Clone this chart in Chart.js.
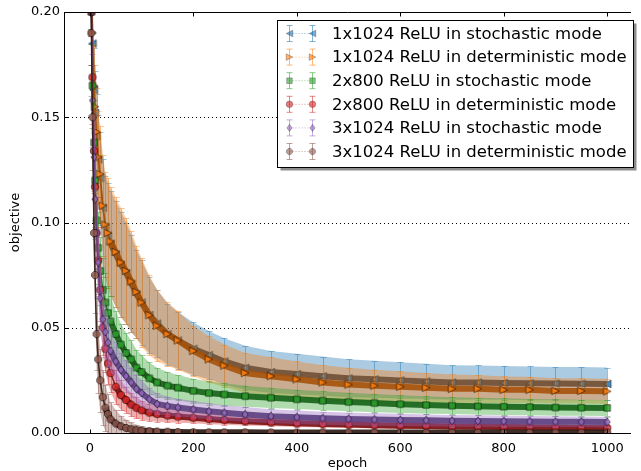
<!DOCTYPE html>
<html>
<head>
<meta charset="utf-8">
<script src="https://cdn.jsdelivr.net/npm/chart.js@4.4.1/dist/chart.umd.min.js"></script>
<style>
html, body { margin: 0; padding: 0; background: #fff; overflow: hidden; }
</style>
</head>
<body>
<canvas id="chart" width="641" height="471"></canvas>
<script>
// epochs sampled from the curves
const epochs = [1, 3, 5, 8, 10, 13, 16, 20, 25, 30, 35, 40, 50, 60, 70, 80, 90, 100, 115, 130,
    150, 170, 200, 230, 260, 300, 350, 400, 450, 500, 550, 600, 650, 700, 750, 800, 850, 900, 950, 1000];
const xTicks = [0, 200, 400, 600, 800, 1000];
const yTicks = [0, 0.05, 0.10, 0.15, 0.20];

const seriesNames = [
    "1x1024 ReLU in stochastic mode",
    "1x1024 ReLU in deterministic mode",
    "2x800 ReLU in stochastic mode",
    "2x800 ReLU in deterministic mode",
    "3x1024 ReLU in stochastic mode",
    "3x1024 ReLU in deterministic mode"
];

// mean objective
const mean1x1024Sto = [0.31, 0.215, 0.185, 0.163, 0.152, 0.141, 0.130, 0.121, 0.107, 0.098, 0.094, 0.090, 0.085, 0.080, 0.076, 0.071, 0.066, 0.062, 0.056, 0.052,
    0.047, 0.044, 0.040, 0.037, 0.034, 0.031, 0.029, 0.028, 0.027, 0.026, 0.0255, 0.025, 0.0245, 0.024, 0.024, 0.0238, 0.0236, 0.0235, 0.0234, 0.0233];
const mean1x1024Det = [0.32, 0.22, 0.19, 0.165, 0.155, 0.143, 0.131, 0.123, 0.108, 0.099, 0.095, 0.091, 0.086, 0.081, 0.077, 0.072, 0.067, 0.062, 0.056, 0.051,
    0.047, 0.044, 0.039, 0.035, 0.032, 0.0285, 0.027, 0.0255, 0.024, 0.023, 0.0225, 0.022, 0.0215, 0.021, 0.021, 0.0205, 0.0205, 0.020, 0.020, 0.0198];
const mean2x800Sto = [0.30, 0.2, 0.165, 0.138, 0.12, 0.101, 0.088, 0.077, 0.068, 0.062, 0.057, 0.053, 0.047, 0.042, 0.038, 0.035, 0.031, 0.029, 0.026, 0.024,
    0.0225, 0.0215, 0.020, 0.019, 0.0183, 0.0175, 0.0167, 0.016, 0.0153, 0.0147, 0.0142, 0.0137, 0.0133, 0.013, 0.0127, 0.0125, 0.0123, 0.0121, 0.012, 0.0119];
const mean2x800Det = [0.30, 0.2, 0.169, 0.134, 0.117, 0.095, 0.082, 0.068, 0.050, 0.040, 0.033, 0.0285, 0.022, 0.018, 0.0157, 0.0135, 0.012, 0.0108, 0.0097, 0.009,
    0.0083, 0.0078, 0.0072, 0.0066, 0.0061, 0.0056, 0.0051, 0.0046, 0.0043, 0.004, 0.0037, 0.0035, 0.0033, 0.0031, 0.003, 0.0028, 0.0027, 0.0026, 0.0025, 0.0024];
const mean3x1024Sto = [0.30, 0.2, 0.158, 0.131, 0.111, 0.095, 0.081, 0.064, 0.054, 0.048, 0.043, 0.039, 0.034, 0.030, 0.027, 0.024, 0.021, 0.019, 0.016, 0.0138,
    0.0128, 0.0121, 0.0112, 0.0103, 0.0096, 0.0088, 0.008, 0.0075, 0.007, 0.0067, 0.0064, 0.0062, 0.006, 0.0058, 0.0057, 0.0056, 0.0055, 0.0054, 0.0053, 0.0052];
const mean3x1024Det = [0.30, 0.19, 0.15, 0.095, 0.075, 0.047, 0.035, 0.025, 0.017, 0.012, 0.009, 0.0065, 0.0045, 0.0032, 0.0024, 0.0018, 0.0014, 0.0011, 0.0009, 0.0007,
    0.0006, 0.0005, 0.0004, 0.00035, 0.0003, 0.0003, 0.00025, 0.00025, 0.0002, 0.0002, 0.0002, 0.0002, 0.0002, 0.0002, 0.0002, 0.0002, 0.0002, 0.0002, 0.0002, 0.0002];

// standard deviation (error bars)
const std1x1024Sto = [0.05, 0.03, 0.022, 0.02, 0.02, 0.02, 0.021, 0.022, 0.023, 0.024, 0.025, 0.025, 0.025, 0.025, 0.024, 0.023, 0.021, 0.02, 0.018, 0.016,
    0.0145, 0.0135, 0.0125, 0.0115, 0.011, 0.0105, 0.01, 0.0096, 0.0093, 0.009, 0.0088, 0.0086, 0.0084, 0.0082, 0.0081, 0.008, 0.008, 0.0079, 0.0079, 0.0078];
const std1x1024Det = [0.05, 0.03, 0.022, 0.02, 0.02, 0.021, 0.022, 0.023, 0.024, 0.025, 0.026, 0.026, 0.026, 0.026, 0.025, 0.024, 0.022, 0.021, 0.019, 0.017,
    0.015, 0.014, 0.012, 0.011, 0.010, 0.0095, 0.009, 0.0085, 0.0082, 0.008, 0.0076, 0.0073, 0.007, 0.0068, 0.0066, 0.0064, 0.0062, 0.006, 0.006, 0.006];
const std2x800Sto = [0.04, 0.025, 0.02, 0.02, 0.019, 0.018, 0.017, 0.016, 0.015, 0.014, 0.013, 0.012, 0.011, 0.010, 0.0095, 0.009, 0.0085, 0.008, 0.0075, 0.007,
    0.0065, 0.006, 0.0058, 0.0055, 0.0053, 0.005, 0.0048, 0.0046, 0.0045, 0.0044, 0.0043, 0.0042, 0.0041, 0.004, 0.004, 0.004, 0.0039, 0.0039, 0.0038, 0.0038];
const std2x800Det = [0.04, 0.025, 0.022, 0.02, 0.019, 0.017, 0.016, 0.015, 0.013, 0.011, 0.0095, 0.0088, 0.008, 0.007, 0.006, 0.0055, 0.005, 0.0045, 0.004, 0.0036,
    0.0032, 0.0029, 0.0026, 0.0024, 0.0022, 0.002, 0.0019, 0.0018, 0.0017, 0.0016, 0.0016, 0.0015, 0.0015, 0.0015, 0.0014, 0.0014, 0.0014, 0.0013, 0.0013, 0.0013];
const std3x1024Sto = [0.04, 0.025, 0.022, 0.02, 0.019, 0.017, 0.016, 0.015, 0.013, 0.012, 0.011, 0.010, 0.009, 0.008, 0.0075, 0.007, 0.0065, 0.006, 0.0055, 0.005,
    0.0045, 0.0042, 0.004, 0.0038, 0.0036, 0.0035, 0.0033, 0.0032, 0.0031, 0.003, 0.003, 0.0029, 0.0028, 0.0028, 0.0027, 0.0027, 0.0026, 0.0026, 0.0025, 0.0025];
const std3x1024Det = [0.04, 0.03, 0.025, 0.02, 0.018, 0.017, 0.016, 0.015, 0.013, 0.011, 0.0095, 0.008, 0.0065, 0.005, 0.004, 0.0032, 0.0026, 0.0021, 0.0016, 0.0013,
    0.001, 0.0008, 0.0006, 0.0005, 0.0004, 0.0003, 0.0003, 0.0003, 0.0002, 0.0002, 0.0002, 0.0002, 0.0002, 0.0002, 0.0002, 0.0002, 0.0002, 0.0002, 0.0002, 0.0002];

// style per series (matplotlib default cycle)
const styles = [
    { mean: mean1x1024Sto, std: std1x1024Sto, rgb: [31, 119, 180], dark: "rgba(22,52,82,0.9)", marker: "left" },
    { mean: mean1x1024Det, std: std1x1024Det, rgb: [255, 127, 14], dark: "rgba(165,82,10,0.9)", marker: "right" },
    { mean: mean2x800Sto, std: std2x800Sto, rgb: [44, 160, 44], dark: "rgba(25,100,25,0.92)", marker: "square" },
    { mean: mean2x800Det, std: std2x800Det, rgb: [214, 39, 40], dark: "rgba(125,20,22,0.92)", marker: "circle" },
    { mean: mean3x1024Sto, std: std3x1024Sto, rgb: [148, 103, 189], dark: "rgba(95,66,130,0.92)", marker: "diamond" },
    { mean: mean3x1024Det, std: std3x1024Det, rgb: [140, 86, 75], dark: "rgba(45,28,22,0.92)", marker: "octagon" }
];
const rgba = (c, a) => `rgba(${c[0]},${c[1]},${c[2]},${a})`;

function markerPath(ctx, type, x, y, r) {
    ctx.beginPath();
    if (type === "left") {
        ctx.moveTo(x - r, y); ctx.lineTo(x + r, y - r); ctx.lineTo(x + r, y + r);
    } else if (type === "right") {
        ctx.moveTo(x + r, y); ctx.lineTo(x - r, y - r); ctx.lineTo(x - r, y + r);
    } else if (type === "square") {
        ctx.rect(x - r * 0.85, y - r * 0.85, r * 1.7, r * 1.7);
    } else if (type === "diamond") {
        ctx.moveTo(x, y - r * 1.1); ctx.lineTo(x + r * 0.8, y); ctx.lineTo(x, y + r * 1.1); ctx.lineTo(x - r * 0.8, y);
    } else if (type === "octagon") {
        for (let k = 0; k < 8; k++) {
            const a = Math.PI / 8 + k * Math.PI / 4;
            const px = x + r * Math.cos(a), py = y + r * Math.sin(a);
            if (k === 0) ctx.moveTo(px, py); else ctx.lineTo(px, py);
        }
    } else {
        ctx.arc(x, y, r, 0, Math.PI * 2);
    }
    ctx.closePath();
}

// marker canvases used as pointStyle
function markerImage(s, alpha) {
    const c = document.createElement("canvas");
    c.width = 12; c.height = 12;
    const g = c.getContext("2d");
    markerPath(g, s.marker, 6, 6, 3.8);
    g.fillStyle = rgba(s.rgb, alpha);
    g.fill();
    g.lineWidth = 0.8;
    g.strokeStyle = "rgba(0,0,0,0.65)";
    g.stroke();
    return c;
}

// where the curve is steep the markers sit apart; where it is flat they pile into a band
const bandWidth = ctx => {
    const dx = Math.abs(ctx.p1.x - ctx.p0.x), dy = Math.abs(ctx.p1.y - ctx.p0.y);
    return dy > dx * 2.5 ? 1.5 : 6;
};

const datasets = [];
styles.forEach((s, k) => {
    const base = (styles.length - k) * 10;
    datasets.push({
        label: seriesNames[k] + " upper",
        data: epochs.map((e, i) => ({ x: e, y: s.mean[i] + s.std[i] })),
        showLine: false, pointRadius: 0, borderWidth: 0, order: base + 3
    });
    datasets.push({
        label: seriesNames[k] + " lower",
        data: epochs.map((e, i) => ({ x: e, y: s.mean[i] - s.std[i] })),
        showLine: false, pointRadius: 0, borderWidth: 0,
        fill: "-1", backgroundColor: rgba(s.rgb, 0.38), order: base + 2
    });
    datasets.push({
        label: seriesNames[k],
        data: epochs.map((e, i) => ({ x: e, y: s.mean[i] })),
        errStd: s.std, errColor: rgba(s.rgb, 0.45),
        borderColor: s.dark, borderWidth: 6, fill: false,
        segment: { borderWidth: bandWidth },
        pointStyle: markerImage(s, 0.85), pointRadius: 4,
        order: base + 1
    });
});

const errorBars = {
    id: "errorBars",
    beforeDatasetDraw(chart, args) {
        const ds = chart.data.datasets[args.index];
        if (!ds.errStd) return;
        const { ctx, chartArea: a } = chart;
        const xs = chart.scales.x, ys = chart.scales.y;
        ctx.save();
        ctx.beginPath();
        ctx.rect(a.left, a.top, a.right - a.left, a.bottom - a.top);
        ctx.clip();
        ctx.strokeStyle = ds.errColor;
        ctx.lineWidth = 1;
        ds.data.forEach((p, i) => {
            const s = ds.errStd[i];
            const px = Math.round(xs.getPixelForValue(p.x)) + 0.5;
            const y1 = Math.round(ys.getPixelForValue(p.y + s)) + 0.5;
            const y2 = Math.round(ys.getPixelForValue(p.y - s)) + 0.5;
            ctx.beginPath();
            ctx.moveTo(px, y1); ctx.lineTo(px, y2);
            ctx.moveTo(px - 3, y1); ctx.lineTo(px + 3, y1);
            ctx.moveTo(px - 3, y2); ctx.lineTo(px + 3, y2);
            ctx.stroke();
        });
        ctx.restore();
    }
};

// dotted horizontal grid, drawn under the data
const gridLines = {
    id: "gridLines",
    beforeDatasetsDraw(chart) {
        const { ctx, chartArea: a } = chart;
        ctx.save();
        ctx.strokeStyle = "#000";
        ctx.lineWidth = 1;
        ctx.setLineDash([1, 3]);
        yTicks.forEach(v => {
            const y = Math.round(chart.scales.y.getPixelForValue(v)) + 0.5;
            ctx.beginPath(); ctx.moveTo(a.left, y); ctx.lineTo(a.right, y); ctx.stroke();
        });
        ctx.restore();
    }
};

// spines, inward ticks and the boxed legend
const frameAndLegend = {
    id: "frameAndLegend",
    afterDraw(chart) {
        const { ctx, chartArea: a } = chart;
        const xs = chart.scales.x, ys = chart.scales.y;
        ctx.save();
        ctx.strokeStyle = "#000";
        ctx.lineWidth = 1;
        const L = Math.round(a.left) + 0.5, T = Math.round(a.top) + 0.5, B = Math.round(a.bottom) + 0.5;
        ctx.beginPath();
        ctx.moveTo(a.right, T); ctx.lineTo(L, T); ctx.lineTo(L, B); ctx.lineTo(a.right, B);
        ctx.stroke();
        ctx.beginPath();
        xTicks.forEach(v => {
            const x = Math.round(xs.getPixelForValue(v)) + 0.5;
            ctx.moveTo(x, B); ctx.lineTo(x, B - 4);
            ctx.moveTo(x, T); ctx.lineTo(x, T + 4);
        });
        yTicks.forEach(v => {
            const y = Math.round(ys.getPixelForValue(v)) + 0.5;
            ctx.moveTo(L, y); ctx.lineTo(L + 4, y);
        });
        ctx.stroke();

        // legend
        const bx = 277.5, by = 20.5, bw = 356, bh = 147;
        ctx.fillStyle = "rgba(0,0,0,0.45)";
        ctx.fillRect(bx + 3, by + 3, bw, bh);
        ctx.fillStyle = "#fff";
        ctx.fillRect(bx, by, bw, bh);
        ctx.strokeRect(bx, by, bw, bh);
        ctx.font = "16.5px 'DejaVu Sans'";
        ctx.textBaseline = "middle";
        styles.forEach((s, k) => {
            const y = 33.5 + k * 23.6;
            const xa = 289.5, xb = 312.5;
            ctx.strokeStyle = rgba(s.rgb, 0.55);
            ctx.lineWidth = 1;
            ctx.setLineDash([1, 2]);
            ctx.beginPath(); ctx.moveTo(xa, y); ctx.lineTo(xb, y); ctx.stroke();
            ctx.setLineDash([]);
            [xa, xb].forEach(x => {
                ctx.beginPath();
                ctx.moveTo(x, y - 8); ctx.lineTo(x, y + 8);
                ctx.moveTo(x - 3, y - 8); ctx.lineTo(x + 3, y - 8);
                ctx.moveTo(x - 3, y + 8); ctx.lineTo(x + 3, y + 8);
                ctx.stroke();
                markerPath(ctx, s.marker, x, y, 3.3);
                ctx.fillStyle = rgba(s.rgb, 0.6);
                ctx.fill();
                ctx.strokeStyle = "rgba(0,0,0,0.35)";
                ctx.lineWidth = 0.7;
                ctx.stroke();
                ctx.strokeStyle = rgba(s.rgb, 0.55);
                ctx.lineWidth = 1;
            });
            ctx.fillStyle = "#000";
            ctx.fillText(seriesNames[k], 332, y + 1);
        });
        ctx.restore();
    }
};

const tickFont = { family: "'DejaVu Sans'", size: 13 };

new Chart(document.getElementById("chart"), {
    type: "line",
    data: { datasets },
    options: {
        responsive: false,
        animation: false,
        layout: { padding: { top: 12, right: 0, left: 3, bottom: 0 } },
        plugins: { legend: { display: false }, tooltip: { enabled: false } },
        scales: {
            x: {
                type: "linear", min: -50, max: 1046,
                afterBuildTicks: axis => { axis.ticks = xTicks.map(v => ({ value: v })); },
                afterFit: axis => { axis.height = 38; },
                grid: { display: false, drawTicks: false },
                border: { display: false },
                ticks: { font: tickFont, color: "#000", padding: 8, maxRotation: 0, callback: v => String(v) },
                title: { display: true, text: "epoch", font: tickFont, color: "#000", padding: { top: 0, bottom: 0 } }
            },
            y: {
                type: "linear", min: 0, max: 0.2,
                afterBuildTicks: axis => { axis.ticks = yTicks.map(v => ({ value: v })); },
                afterFit: axis => { axis.width = 61; },
                grid: { display: false, drawTicks: false },
                border: { display: false },
                ticks: { font: tickFont, color: "#000", padding: 4, callback: v => v.toFixed(2) },
                title: { display: true, text: "objective", font: tickFont, color: "#000", padding: { top: 5, bottom: 0 } }
            }
        }
    },
    plugins: [gridLines, errorBars, frameAndLegend]
});
</script>
</body>
</html>
